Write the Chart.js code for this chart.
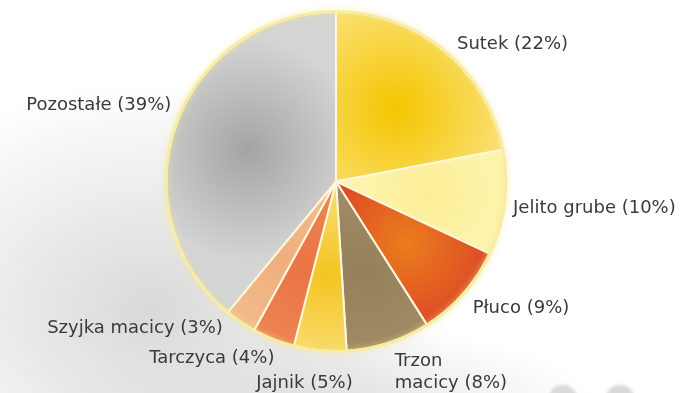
<!DOCTYPE html>
<html>
<head>
<meta charset="utf-8">
<script src="https://cdn.jsdelivr.net/npm/chart.js@4"></script>
<style>
    html, body {
        margin: 0;
        padding: 0;
    }
    body {
        width: 689px;
        height: 393px;
        overflow: hidden;
        position: relative;
        background:
            radial-gradient(ellipse 300px 230px at 150px 310px, #d9d9d9, rgba(255,255,255,0) 100%),
            radial-gradient(ellipse 280px 80px at 320px 405px, #e2e2e2, rgba(255,255,255,0) 100%),
            #ffffff;
    }
    .dot {
        position: absolute;
        width: 30px;
        height: 30px;
        border-radius: 50%;
        background: #dadada;
        filter: blur(1.5px);
    }
    #chart {
        position: absolute;
        left: 0;
        top: 0;
    }
</style>
</head>
<body>
<div class="dot" style="left:548px; top:385px;"></div>
<div class="dot" style="left:605px; top:385px;"></div>
<canvas id="chart" width="689" height="393"></canvas>

<script>
// data
const labels = ["Sutek", "Jelito grube", "Płuco", "Trzon macicy", "Jajnik", "Tarczyca", "Szyjka macicy", "Pozostałe"];
const shares = [22, 10, 9, 8, 5, 4, 3, 39];

// slice colours: centre of the glow, and the rim
const innerColors = ["#f4c500", "#fcef98", "#eb7d1c", "#96805c", "#f3c420", "#ea7444", "#efae7c", "#a4a4a4"];
const outerColors = ["#fae072", "#fef6b6", "#d83a2a", "#a38e68", "#fbe48a", "#ef8a5a", "#f4c196", "#d4d4d4"];

// how each label sits relative to its slice (left side labels are right aligned)
const labelNudge = [[4, 4], [-5, 4], [-1, 5], [2, 5], [34, 19], [6, 6], [-10, -5], [8, -14]];

const total = shares.reduce((a, b) => a + b, 0);

function sliceFill(context) {
    const chart = context.chart;
    const area = chart.chartArea;
    const i = context.dataIndex;
    if (!area) return innerColors[i];
    const cx = (area.left + area.right) / 2;
    const cy = (area.top + area.bottom) / 2;
    const r = Math.min(area.width, area.height) / 2;
    let before = 0;
    for (let k = 0; k < i; k++) before += shares[k];
    const mid = -Math.PI / 2 + 2 * Math.PI * (before + shares[i] / 2) / total;
    const gx = cx + Math.cos(mid) * r * 0.55;
    const gy = cy + Math.sin(mid) * r * 0.55;
    const g = chart.ctx.createRadialGradient(gx, gy, 0, gx, gy, r * 0.65);
    g.addColorStop(0, innerColors[i]);
    g.addColorStop(1, outerColors[i]);
    return g;
}

// yellow rim round the pie
const rimPlugin = {
    id: "rim",
    afterDatasetsDraw(chart) {
        const arc = chart.getDatasetMeta(0).data[0];
        if (!arc) return;
        const ctx = chart.ctx;
        ctx.save();
        ctx.beginPath();
        ctx.arc(arc.x, arc.y, arc.outerRadius + 0.5, 0, Math.PI * 2);
        ctx.strokeStyle = "rgba(247, 236, 160, 0.95)";
        ctx.lineWidth = 3;
        ctx.shadowColor = "rgba(245, 230, 140, 0.8)";
        ctx.shadowBlur = 6;
        ctx.stroke();
        ctx.restore();
    }
};

// outside labels
const labelPlugin = {
    id: "outLabels",
    afterDraw(chart) {
        const ctx = chart.ctx;
        const arcs = chart.getDatasetMeta(0).data;
        ctx.save();
        ctx.font = "18px 'DejaVu Sans'";
        ctx.fillStyle = "#3a3a3a";
        ctx.textBaseline = "middle";
        arcs.forEach((arc, i) => {
            const mid = (arc.startAngle + arc.endAngle) / 2;
            const rr = arc.outerRadius + 14;
            let x = arc.x + Math.cos(mid) * rr + labelNudge[i][0];
            let y = arc.y + Math.sin(mid) * rr + labelNudge[i][1];
            ctx.textAlign = Math.cos(mid) >= 0 && i !== 4 ? "left" : "right";
            let text = labels[i] + " (" + shares[i] + "%)";
            if (i === 3) {
                ctx.fillText("Trzon", x, y);
                ctx.fillText("macicy (" + shares[i] + "%)", x, y + 22);
            } else {
                ctx.fillText(text, x, y);
            }
        });
        ctx.restore();
    }
};

const ctx = document.getElementById("chart").getContext("2d");
new Chart(ctx, {
    type: "pie",
    data: {
        labels: labels,
        datasets: [{
            data: shares,
            backgroundColor: sliceFill,
            borderColor: "#fff7dc",
            borderWidth: 2
        }]
    },
    options: {
        responsive: false,
        animation: false,
        layout: {
            padding: { top: 11, bottom: 41, left: 0, right: 17 }
        },
        plugins: {
            legend: { display: false },
            tooltip: { enabled: false }
        }
    },
    plugins: [rimPlugin, labelPlugin]
});
</script>
</body>
</html>
